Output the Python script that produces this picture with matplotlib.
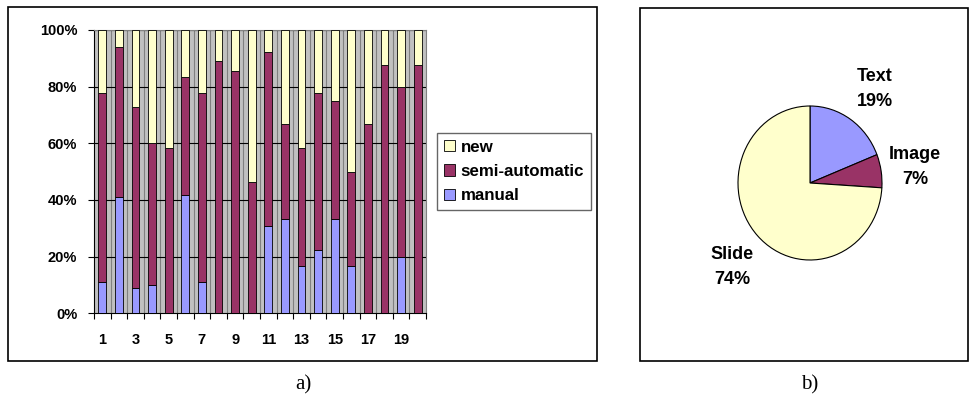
import matplotlib
matplotlib.use('Agg')
import matplotlib.pyplot as plt
import numpy as np
from matplotlib.patches import Rectangle

plt.rcParams['font.family'] = ['Liberation Sans', 'DejaVu Sans']
plt.rcParams['font.weight'] = 'bold'

# (1) data: share per item (percent)
items     = np.arange(1, 21)
manual    = [11.1, 41.2, 9.1, 10.0, 0, 41.7, 11.1, 0, 0, 0,
             30.8, 33.3, 16.7, 22.2, 33.3, 16.7, 0, 0, 20.0, 0]
semi_auto = [66.7, 52.9, 63.6, 50.0, 58.3, 41.6, 66.7, 88.9, 85.7, 46.2,
             61.5, 33.4, 41.6, 55.6, 41.7, 33.3, 66.7, 87.5, 60.0, 87.5]
new       = [100 - m - s for m, s in zip(manual, semi_auto)]

pie_labels = ['Text', 'Image', 'Slide']
pie_values = [19, 7, 74]

c_new    = '#FFFFCC'
c_semi   = '#993366'
c_manual = '#9999FF'

W, H = 970, 397
fig = plt.figure(figsize=(W / 100, H / 100), dpi=100)

def fx(px):
    return px / W

def fy(py):
    return 1 - py / H

# outer frames
fig.patches.append(Rectangle((fx(8), fy(361)), fx(597 - 8), (361 - 7) / H,
                             transform=fig.transFigure, fill=False, lw=1.2, ec='black'))
fig.patches.append(Rectangle((fx(640), fy(361)), fx(968 - 640), (361 - 8) / H,
                             transform=fig.transFigure, fill=False, lw=1.2, ec='black'))

# (2) stacked bars
ax1 = fig.add_axes([fx(94), fy(313.3), fx(426 - 94), (313.3 - 30) / H])
ax1.set_facecolor('#C0C0C0')
w = 0.46
ax1.bar(items, manual, width=w, color=c_manual, edgecolor='black', lw=0.6, label='manual', zorder=3)
ax1.bar(items, semi_auto, bottom=manual, width=w, color=c_semi, edgecolor='black', lw=0.6,
        label='semi-automatic', zorder=3)
ax1.bar(items, new, bottom=np.add(manual, semi_auto), width=w, color=c_new, edgecolor='black',
        lw=0.6, label='new', zorder=3)
ax1.set_xlim(0.5, 20.5)
ax1.set_ylim(0, 100)
ax1.set_yticks(np.arange(0, 101, 20))
ax1.set_yticklabels([f'{v}%' for v in range(0, 101, 20)], fontsize=10.5, fontweight='bold')
ax1.set_xticks(np.arange(0.5, 21, 1))
ax1.set_xticklabels([])
ax1.set_xticks(np.arange(1, 21, 2), minor=True)
ax1.set_xticklabels([str(i) for i in range(1, 21, 2)], minor=True, fontsize=10.5, fontweight='bold')
ax1.tick_params(axis='x', which='minor', length=0, pad=14)
ax1.tick_params(axis='x', which='major', length=4, width=0.8, direction='out')
ax1.tick_params(axis='y', length=4, width=0.8, direction='out', pad=8)
for x in np.arange(1.5, 20.5, 1):
    ax1.axvline(x, color='#808080', lw=0.8, zorder=1)
for y in range(20, 101, 20):
    ax1.axhline(y, color='black', lw=0.8, zorder=1)
for s in ['top', 'right']:
    ax1.spines[s].set_color('#808080')
ax1.spines['left'].set_color('black')
ax1.spines['bottom'].set_color('black')

handles, labels = ax1.get_legend_handles_labels()
leg = fig.legend(handles[::-1], labels[::-1], loc='upper left',
                 bbox_to_anchor=(fx(437), fy(133)), bbox_transform=fig.transFigure,
                 prop={'size': 12.2, 'weight': 'bold'}, frameon=True, fancybox=False,
                 edgecolor='#404040', handlelength=0.65, handleheight=0.65, handletextpad=0.35,
                 borderpad=0.4, labelspacing=0.55, borderaxespad=0)
leg.get_frame().set_linewidth(1.0)

# (3) pie chart
ax2 = fig.add_axes([fx(738), fy(260), fx(144), 154 / H])
ax2.pie(pie_values, colors=[c_manual, c_semi, c_new], startangle=90, counterclock=False,
        wedgeprops={'linewidth': 0.8, 'edgecolor': 'black'})
ax2.set_xlim(-1, 1)
ax2.set_ylim(-1, 1)
ax2.set_aspect('auto')
ax2.axis('off')

label_pos = [(875, 89), (915, 167), (732, 267)]
for name, val, (px, py) in zip(pie_labels, pie_values, label_pos):
    fig.text(fx(px), fy(py), f'{name}\n{val}%', ha='center', va='center',
             fontsize=13, fontweight='bold', linespacing=1.6)

# panel captions
fig.text(fx(303), fy(385), 'a)', ha='center', va='center', fontsize=15,
         family='Liberation Serif', fontweight='normal')
fig.text(fx(810), fy(385), 'b)', ha='center', va='center', fontsize=15,
         family='Liberation Serif', fontweight='normal')

fig.savefig('out.png', dpi=100)
